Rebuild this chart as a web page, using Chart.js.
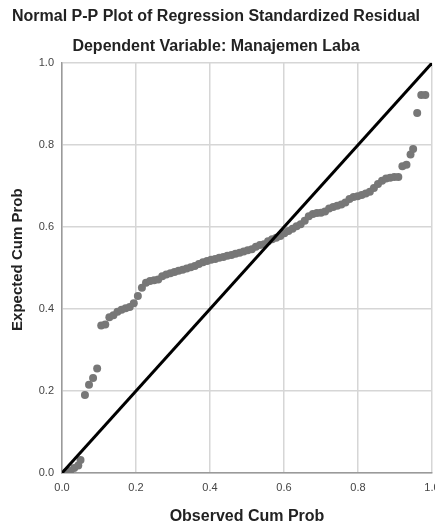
<!DOCTYPE html>
<html>
<head>
<meta charset="utf-8">
<script src="https://cdn.jsdelivr.net/npm/chart.js@4"></script>
<style>
  html, body { margin: 0; padding: 0; background: #fff; overflow: hidden; }
  #wrap { width: 450px; height: 530px; position: relative; }
</style>
</head>
<body>
<div id="wrap"><canvas id="ppChart"></canvas></div>
<script>
// Observed cum prob (x) and expected cum prob (y)
const observedCum = [
    0.011, 0.022, 0.033, 0.044, 0.050, 0.062, 0.073, 0.084, 0.095, 0.106,
    0.117, 0.128, 0.139, 0.150, 0.161, 0.172, 0.183, 0.194, 0.205, 0.216,
    0.227, 0.238, 0.249, 0.260, 0.271, 0.282, 0.293, 0.304, 0.315, 0.326,
    0.337, 0.348, 0.359, 0.370, 0.381, 0.392, 0.403, 0.414, 0.425, 0.436,
    0.447, 0.458, 0.469, 0.480, 0.491, 0.502, 0.513, 0.524, 0.535, 0.546,
    0.557, 0.568, 0.579, 0.590, 0.601, 0.612, 0.623, 0.634, 0.645, 0.656,
    0.667, 0.678, 0.689, 0.700, 0.711, 0.722, 0.733, 0.744, 0.755, 0.766,
    0.777, 0.788, 0.799, 0.810, 0.821, 0.832, 0.843, 0.854, 0.865, 0.876,
    0.887, 0.898, 0.909, 0.920, 0.931, 0.942, 0.949, 0.960, 0.971, 0.982
];
const expectedCum = [
    0.002, 0.005, 0.012, 0.018, 0.032, 0.190, 0.215, 0.232, 0.255, 0.360,
    0.362, 0.380, 0.385, 0.393, 0.398, 0.402, 0.405, 0.414, 0.432, 0.452,
    0.464, 0.468, 0.470, 0.472, 0.480, 0.484, 0.487, 0.490, 0.493, 0.496,
    0.499, 0.502, 0.505, 0.510, 0.514, 0.517, 0.520, 0.522, 0.525, 0.527,
    0.530, 0.532, 0.535, 0.537, 0.540, 0.543, 0.546, 0.552, 0.556, 0.558,
    0.565, 0.570, 0.574, 0.578, 0.585, 0.590, 0.596, 0.602, 0.607, 0.615,
    0.626, 0.632, 0.634, 0.635, 0.638, 0.645, 0.649, 0.652, 0.655, 0.660,
    0.668, 0.673, 0.675, 0.678, 0.682, 0.686, 0.695, 0.705, 0.713, 0.718,
    0.720, 0.722, 0.722, 0.748, 0.752, 0.777, 0.790, 0.878, 0.922, 0.922
];
// reference diagonal
const diagX = [0, 1];
const diagY = [0, 1];
const tickValues = [0, 0.2, 0.4, 0.6, 0.8, 1.0];

const FONT = '"Liberation Sans", Arial, sans-serif';
const fmt = (v) => Number(v).toFixed(1);

const ctx = document.getElementById('ppChart').getContext('2d');
new Chart(ctx, {
    type: 'scatter',
    data: {
        datasets: [
            {
                type: 'line',
                data: diagX.map((x, i) => ({ x: x, y: diagY[i] })),
                borderColor: '#000',
                borderWidth: 3,
                pointRadius: 0,
                fill: false,
                order: 0
            },
            {
                data: observedCum.map((x, i) => ({ x: x, y: expectedCum[i] })),
                backgroundColor: '#777',
                borderColor: '#777',
                borderWidth: 0,
                pointRadius: 4,
                order: 1
            }
        ]
    },
    options: {
        responsive: true,
        maintainAspectRatio: false,
        animation: false,
        layout: { padding: { left: 0, right: 18, top: 0, bottom: 0 } },
        plugins: {
            legend: { display: false },
            tooltip: { enabled: false },
            title: {
                display: true,
                text: 'Normal P-P Plot of Regression Standardized Residual',
                color: '#222',
                font: { family: FONT, size: 16, weight: 'bold' },
                padding: { top: 7.4, bottom: 4 }
            },
            subtitle: {
                display: true,
                text: 'Dependent Variable: Manajemen Laba',
                color: '#222',
                font: { family: FONT, size: 16, weight: 'bold' },
                padding: { top: 6.8, bottom: 6.4 }
            }
        },
        scales: {
            x: {
                type: 'linear',
                min: 0, max: 1,
                afterBuildTicks: (s) => { s.ticks = tickValues.map(v => ({ value: v })); },
                afterFit: (s) => { s.height = 57; },
                grid: { color: '#d6d6d6', lineWidth: 1.5, drawTicks: false },
                border: { color: '#9a9a9a', width: 1.5 },
                ticks: { color: '#444', padding: 8, font: { family: FONT, size: 11 }, callback: fmt, maxRotation: 0 },
                title: {
                    display: true, text: 'Observed Cum Prob', color: '#222',
                    font: { family: FONT, size: 16, weight: 'bold' },
                    padding: { top: 0, bottom: 3.5 }
                }
            },
            y: {
                type: 'linear',
                min: 0, max: 1,
                afterBuildTicks: (s) => { s.ticks = tickValues.map(v => ({ value: v })); },
                afterFit: (s) => { s.width = 62; },
                grid: { color: '#d6d6d6', lineWidth: 1.5, drawTicks: false },
                border: { color: '#9a9a9a', width: 1.5 },
                ticks: { color: '#444', padding: 8, font: { family: FONT, size: 11 }, callback: fmt },
                title: {
                    display: true, text: '    Expected Cum Prob', color: '#222',
                    font: { family: FONT, size: 15, weight: 'bold' },
                    padding: { top: 9, bottom: 0 }
                }
            }
        }
    }
});
</script>
</body>
</html>
